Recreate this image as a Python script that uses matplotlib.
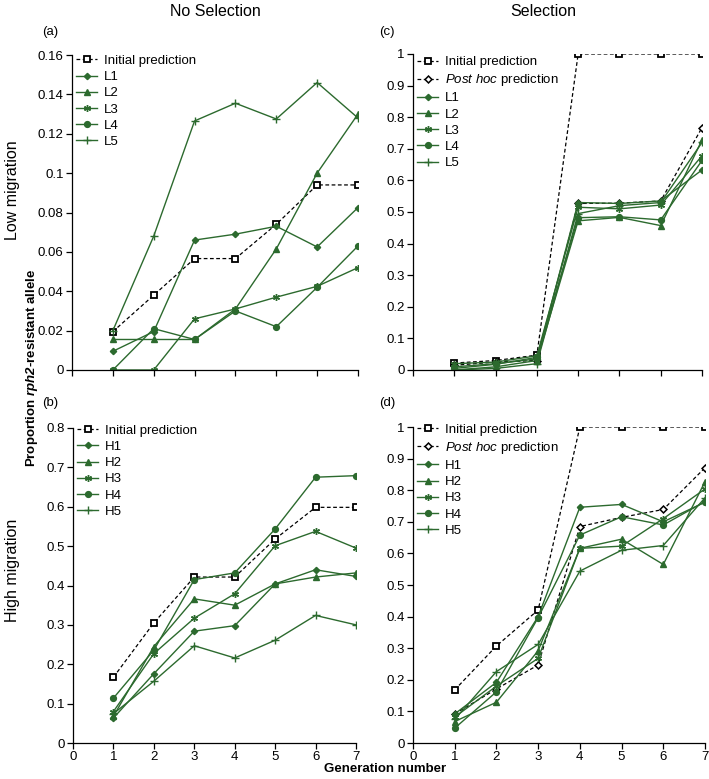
import matplotlib.pyplot as plt
import numpy as np

plt.rcParams['font.family'] = ['Liberation Sans', 'DejaVu Sans']
plt.rcParams['mathtext.fontset'] = 'custom'
plt.rcParams['mathtext.rm'] = 'Liberation Sans'
plt.rcParams['mathtext.it'] = 'Liberation Sans:italic'
plt.rcParams['mathtext.bf'] = 'Liberation Sans:bold'
plt.rcParams['mathtext.bfit'] = 'Liberation Sans:italic:bold'

gen = [1, 2, 3, 4, 5, 6, 7]

# (a) low migration, no selection
a_init = [0.0195, 0.038, 0.0566, 0.0566, 0.074, 0.094, 0.094]
a_L1 = [0.0095, 0.0195, 0.066, 0.069, 0.073, 0.0625, 0.0825]
a_L2 = [0.0155, 0.0155, 0.0155, 0.031, 0.0615, 0.1, 0.13]
a_L3 = [0.0, 0.0, 0.026, 0.031, 0.037, 0.0425, 0.052]
a_L4 = [0.0, 0.021, 0.0155, 0.0300, 0.022, 0.042, 0.063]
a_L5 = [0.02, 0.068, 0.1265, 0.1355, 0.1275, 0.146, 0.128]

# (b) high migration, no selection
b_init = [0.167, 0.305, 0.4215, 0.4215, 0.518, 0.5985, 0.5985]
b_H1 = [0.0635, 0.176, 0.284, 0.298, 0.404, 0.44, 0.423]
b_H2 = [0.068, 0.245, 0.366, 0.35, 0.404, 0.4215, 0.432]
b_H3 = [0.08, 0.227, 0.317, 0.379, 0.501, 0.5375, 0.495]
b_H4 = [0.114, 0.236, 0.415, 0.432, 0.5435, 0.675, 0.679]
b_H5 = [0.0745, 0.157, 0.247, 0.216, 0.261, 0.324, 0.30]

# (c) low migration, selection
c_init = [0.022, 0.03, 0.047, 1.0, 1.0, 1.0, 1.0]
c_post = [0.015, 0.025, 0.03, 0.527, 0.528, 0.535, 0.767]
c_L1 = [0.01, 0.02, 0.035, 0.53, 0.527, 0.535, 0.633]
c_L2 = [0.0, 0.01, 0.03, 0.472, 0.483, 0.457, 0.728]
c_L3 = [0.02, 0.025, 0.045, 0.515, 0.51, 0.522, 0.678]
c_L4 = [0.005, 0.018, 0.04, 0.482, 0.485, 0.475, 0.663]
c_L5 = [0.0, 0.005, 0.02, 0.495, 0.52, 0.53, 0.72]

# (d) high migration, selection
d_init = [0.168, 0.307, 0.421, 1.0, 1.0, 1.0, 1.0]
d_post = [0.092, 0.171, 0.247, 0.685, 0.714, 0.739, 0.871]
d_H1 = [0.092, 0.192, 0.40, 0.746, 0.755, 0.70, 0.762]
d_H2 = [0.068, 0.129, 0.292, 0.616, 0.645, 0.565, 0.827]
d_H3 = [0.082, 0.18, 0.268, 0.616, 0.623, 0.71, 0.804]
d_H4 = [0.047, 0.162, 0.397, 0.658, 0.716, 0.69, 0.764]
d_H5 = [0.075, 0.226, 0.312, 0.544, 0.61, 0.625, 0.776]

green = '#2c6a2e'
markers = ['D', '^', (6, 2, 0), 'o', '+']
msizes = [3.2, 4.5, 5, 4.2, 5.5]

W, H = 709, 779
fig = plt.figure(figsize=(W / 100, H / 100), dpi=100)


def add_ax(l, r, t, b):
    return fig.add_axes([l / W, 1 - b / H, (r - l) / W, (b - t) / H])


def panel(ax, init, post, lines, names, ymax, ystep, xlabels, anchor_y):
    ax.plot(gen, init, ls=(0, (3, 2)), color='black', lw=0.9, marker='s',
            ms=5, mfc='white', mec='black', mew=1.3, label='Initial prediction')
    if post is not None:
        ax.plot(gen, post, ls=(0, (3, 2)), color='black', lw=0.9, marker='D',
                ms=3.5, mfc='white', mec='black', mew=1.1,
                label=r'$\it{Post\ hoc}$ prediction')
    for vals, nm, mk, ms in zip(lines, names, markers, msizes):
        ax.plot(gen, vals, color=green, lw=1.0, marker=mk, ms=ms,
                mfc=green, mec=green, mew=1.0, label=nm)
    ax.set_xlim(0, 7)
    ax.set_ylim(0, ymax)
    ax.set_xticks(range(0, 8))
    yt = np.round(np.arange(0, ymax + ystep / 2, ystep), 3)
    ax.set_yticks(yt)
    ax.set_yticklabels(['%g' % v for v in yt])
    if xlabels:
        ax.set_xticklabels([str(i) for i in range(0, 8)])
    else:
        ax.set_xticklabels([])
    for s in ['top', 'right']:
        ax.spines[s].set_visible(False)
    for s in ['left', 'bottom']:
        ax.spines[s].set_linewidth(0.9)
    ax.tick_params(direction='out', length=4, width=0.9, labelsize=9.5, pad=2)
    ax.legend(loc='upper left', frameon=False, fontsize=9.5, handlelength=1.6,
              handletextpad=0.5, labelspacing=0.3, borderaxespad=0.0,
              borderpad=0.1, bbox_to_anchor=(0.01, anchor_y))


ax_a = add_ax(72, 358, 55, 370)
panel(ax_a, a_init, None, [a_L1, a_L2, a_L3, a_L4, a_L5],
      ['L1', 'L2', 'L3', 'L4', 'L5'], 0.16, 0.02, False, 1.005)
ax_c = add_ax(413, 702, 54, 370)
panel(ax_c, c_init, c_post, [c_L1, c_L2, c_L3, c_L4, c_L5],
      ['L1', 'L2', 'L3', 'L4', 'L5'], 1.0, 0.1, False, 0.998)
ax_b = add_ax(73, 356, 428, 743)
panel(ax_b, b_init, None, [b_H1, b_H2, b_H3, b_H4, b_H5],
      ['H1', 'H2', 'H3', 'H4', 'H5'], 0.8, 0.1, True, 1.015)
ax_d = add_ax(413, 705, 427, 743)
panel(ax_d, d_init, d_post, [d_H1, d_H2, d_H3, d_H4, d_H5],
      ['H1', 'H2', 'H3', 'H4', 'H5'], 1.0, 0.1, True, 1.015)


def ftext(x, y, s, **kw):
    fig.text(x / W, 1 - y / H, s, **kw)


ftext(215, 11, 'No Selection', fontsize=11.5, ha='center', va='center')
ftext(543, 11, 'Selection', fontsize=11.5, ha='center', va='center')
ftext(50, 32, '(a)', fontsize=9.5, ha='center', va='center')
ftext(387, 32, '(c)', fontsize=9.5, ha='center', va='center')
ftext(50, 403, '(b)', fontsize=9.5, ha='center', va='center')
ftext(387, 403, '(d)', fontsize=9.5, ha='center', va='center')
ftext(12, 190, 'Low migration', fontsize=11.5, rotation=90, ha='center', va='center')
ftext(12, 570, 'High migration', fontsize=11.5, rotation=90, ha='center', va='center')
ftext(32, 368, r'Proportion $\mathbfit{rph2}$-resistant allele', fontsize=9.5,
      fontweight='bold', rotation=90, ha='center', va='center')
ftext(385, 769, 'Generation number', fontsize=9.5, fontweight='bold',
      ha='center', va='center')

plt.savefig('out.png', dpi=100)
